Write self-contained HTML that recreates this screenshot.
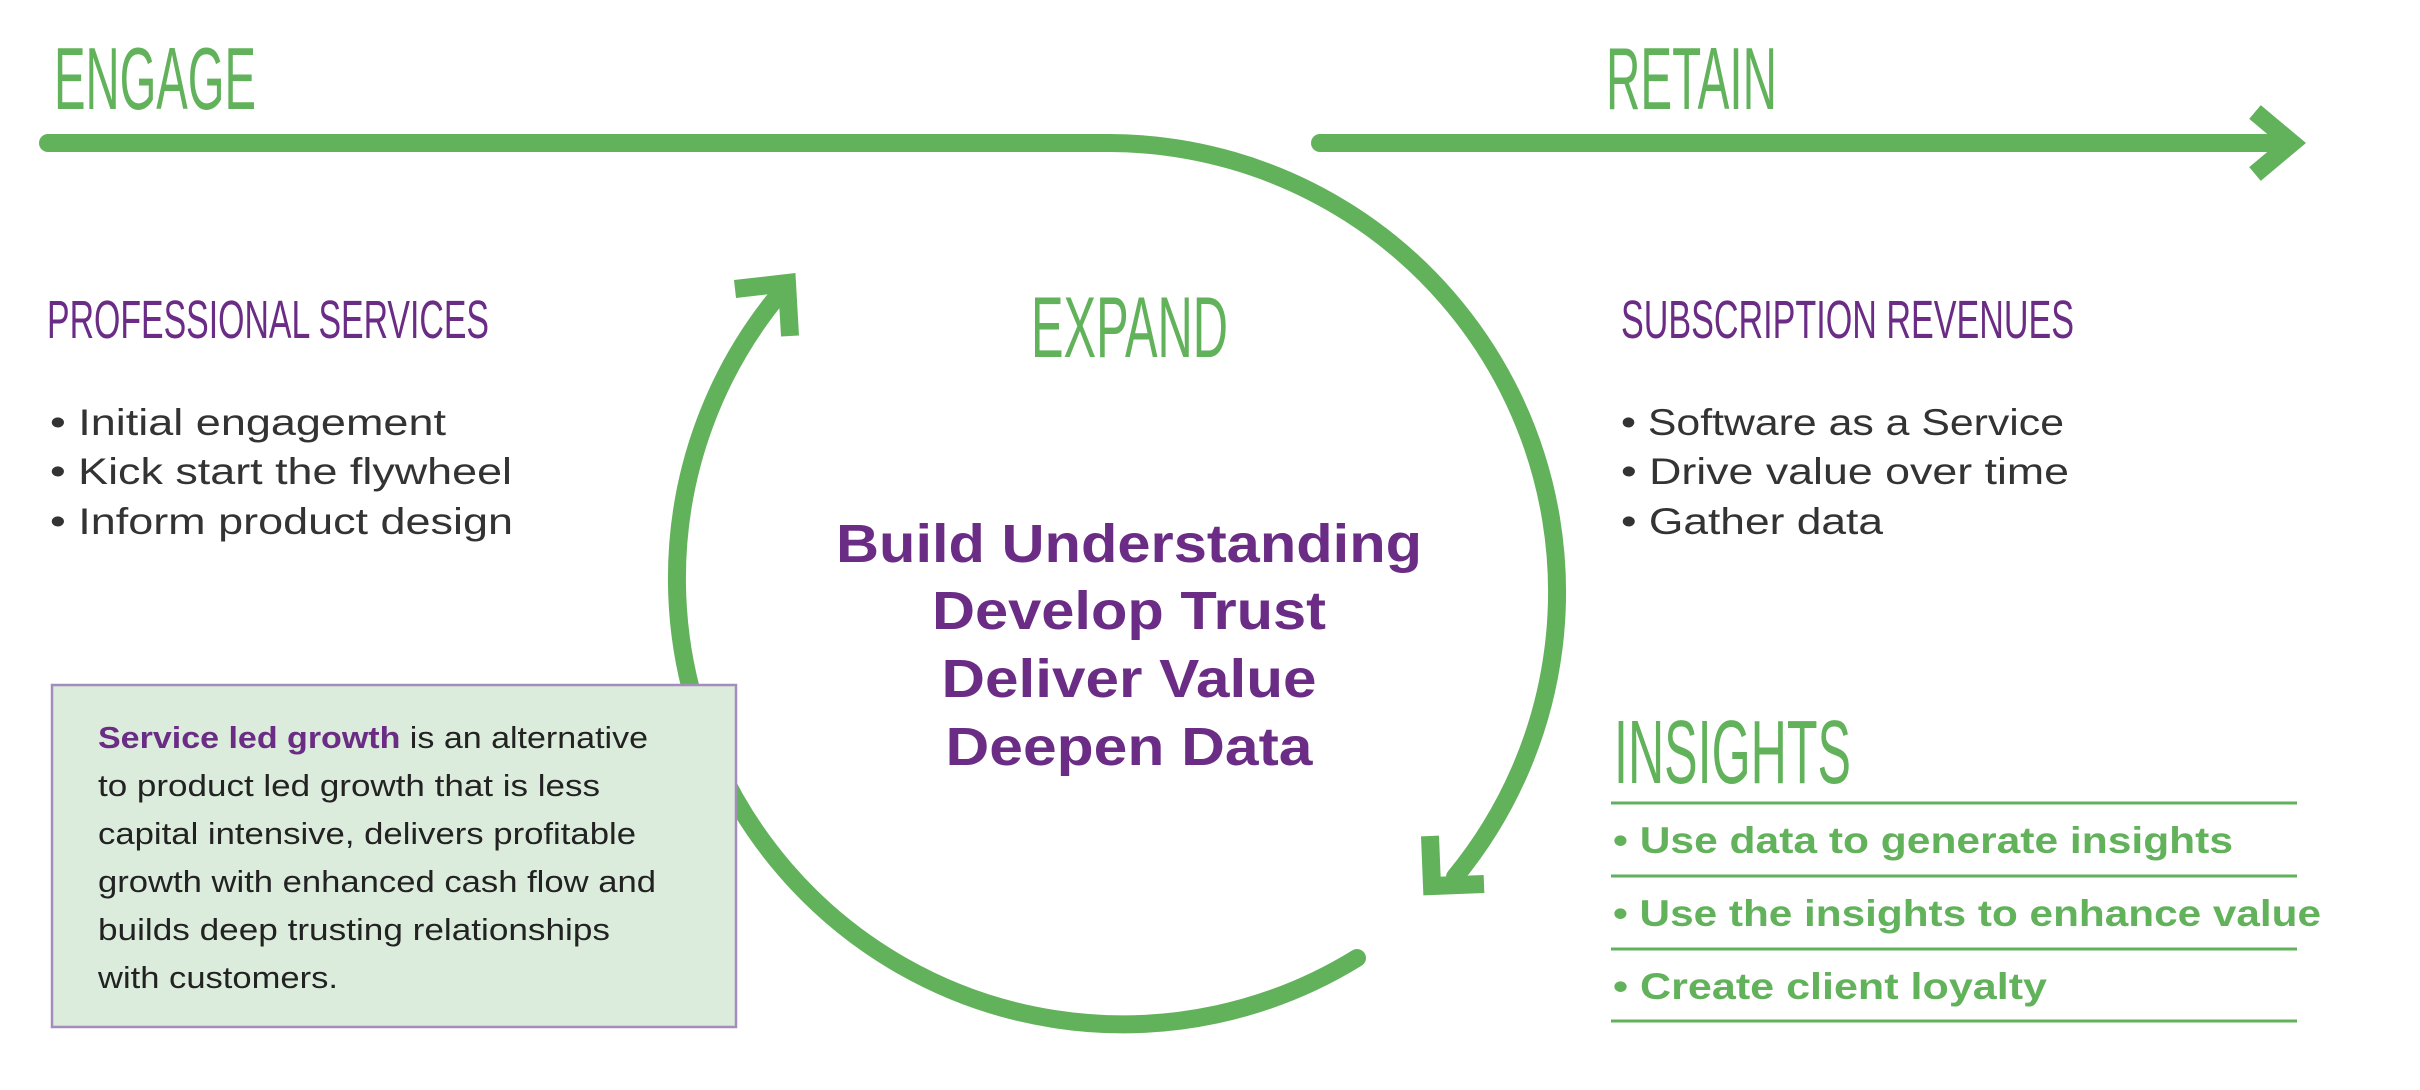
<!DOCTYPE html>
<html><head><meta charset="utf-8"><style>
html,body{margin:0;padding:0;background:#fff;}
svg{display:block;}
text{font-family:"Liberation Sans",sans-serif;}
</style></head><body>
<svg width="2420" height="1090" viewBox="0 0 2420 1090" xmlns="http://www.w3.org/2000/svg">
<g fill="none" stroke="#62b25c" stroke-width="18" stroke-linecap="round">
  <path d="M48 143 L1110 143 A449 449 0 0 1 1455 877"/>
  <path d="M1357 958 A446 446 0 0 1 781 292"/>
  <path d="M1320 143 L2290 143"/>
</g>
<g fill="none" stroke="#62b25c" stroke-width="18" stroke-linejoin="miter" stroke-linecap="butt">
  <polyline points="2255,112 2292,143 2255,174"/>
  <polyline points="1430,836 1432,886 1484,884"/>
  <polyline points="735,289 787,283 790,336"/>
</g>
<rect x="52" y="685" width="684" height="342" fill="#dcecdc" stroke="#a48cbd" stroke-width="2.5"/>

<g fill="#62b25c">
  <text x="54" y="109" font-size="88" textLength="202" lengthAdjust="spacingAndGlyphs">ENGAGE</text>
  <text x="1606" y="109" font-size="88" textLength="171" lengthAdjust="spacingAndGlyphs">RETAIN</text>
  <text x="1031" y="357" font-size="86" textLength="197" lengthAdjust="spacingAndGlyphs">EXPAND</text>
  <text x="1614" y="783" font-size="90" textLength="237" lengthAdjust="spacingAndGlyphs">INSIGHTS</text>
</g>
<g fill="#6b2c85">
  <text x="47" y="338" font-size="54" textLength="442" lengthAdjust="spacingAndGlyphs">PROFESSIONAL SERVICES</text>
  <text x="1621" y="338" font-size="54" textLength="453" lengthAdjust="spacingAndGlyphs">SUBSCRIPTION REVENUES</text>
</g>
<g fill="#333" font-size="37">
  <text x="50" y="435" textLength="396" lengthAdjust="spacingAndGlyphs">• Initial engagement</text>
  <text x="50" y="484" textLength="462" lengthAdjust="spacingAndGlyphs">• Kick start the flywheel</text>
  <text x="50" y="534" textLength="463" lengthAdjust="spacingAndGlyphs">• Inform product design</text>
  <text x="1621" y="435" textLength="443" lengthAdjust="spacingAndGlyphs">• Software as a Service</text>
  <text x="1621" y="484" textLength="448" lengthAdjust="spacingAndGlyphs">• Drive value over time</text>
  <text x="1621" y="534" textLength="262" lengthAdjust="spacingAndGlyphs">• Gather data</text>
</g>
<g fill="#6b2c85" font-weight="bold" font-size="54" text-anchor="middle">
  <text x="1129" y="562" textLength="586" lengthAdjust="spacingAndGlyphs">Build Understanding</text>
  <text x="1129" y="629" textLength="394" lengthAdjust="spacingAndGlyphs">Develop Trust</text>
  <text x="1129" y="697" textLength="375" lengthAdjust="spacingAndGlyphs">Deliver Value</text>
  <text x="1129" y="765" textLength="367" lengthAdjust="spacingAndGlyphs">Deepen Data</text>
</g>
<g fill="#222" font-size="31">
  <text x="98" y="748" textLength="550" lengthAdjust="spacingAndGlyphs"><tspan fill="#6b2c85" font-weight="bold">Service led growth</tspan> is an alternative</text>
  <text x="98" y="796" textLength="502" lengthAdjust="spacingAndGlyphs">to product led growth that is less</text>
  <text x="98" y="844" textLength="538" lengthAdjust="spacingAndGlyphs">capital intensive, delivers profitable</text>
  <text x="98" y="892" textLength="558" lengthAdjust="spacingAndGlyphs">growth with enhanced cash flow and</text>
  <text x="98" y="940" textLength="512" lengthAdjust="spacingAndGlyphs">builds deep trusting relationships</text>
  <text x="98" y="988" textLength="240" lengthAdjust="spacingAndGlyphs">with customers.</text>
</g>
<g stroke="#62b25c" stroke-width="3">
  <line x1="1611" y1="803" x2="2297" y2="803"/>
  <line x1="1611" y1="876" x2="2297" y2="876"/>
  <line x1="1611" y1="949" x2="2297" y2="949"/>
  <line x1="1611" y1="1021" x2="2297" y2="1021"/>
</g>
<g fill="#62b25c" font-weight="bold" font-size="37">
  <text x="1613" y="853" textLength="620" lengthAdjust="spacingAndGlyphs">• Use data to generate insights</text>
  <text x="1613" y="926" textLength="708" lengthAdjust="spacingAndGlyphs">• Use the insights to enhance value</text>
  <text x="1613" y="999" textLength="434" lengthAdjust="spacingAndGlyphs">• Create client loyalty</text>
</g>
</svg>
</body></html>
